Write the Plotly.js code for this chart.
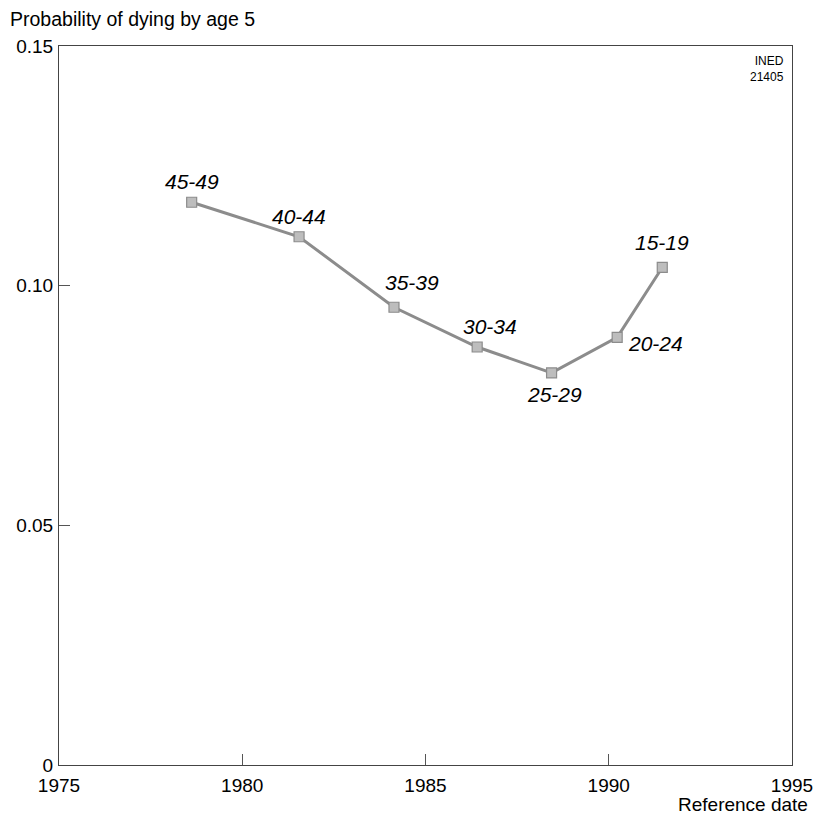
<!DOCTYPE html>
<html><head><meta charset="utf-8">
<script src="https://cdn.plot.ly/plotly-3.0.1.min.js"></script>
<style>body{margin:0;background:#fff}#c{width:813px;height:819px}</style>
</head><body><div id="c"></div>
<script>
const years = [1978.62, 1981.55, 1984.14, 1986.41, 1988.44, 1990.23, 1991.46];
const probs = [0.1174, 0.1102, 0.0955, 0.0872, 0.0818, 0.0892, 0.1038];
const ageGroups = ["45-49", "40-44", "35-39", "30-34", "25-29", "20-24", "15-19"];
const xTicks = [1975, 1980, 1985, 1990, 1995];
const yTicks = [0, 0.05, 0.10, 0.15];
const yTickText = ["0", "0.05", "0.10", "0.15"];

// label offsets (px) relative to each marker
const labelDx = [0, 0, 18, 13, 3, 9, 0];
const labelDy = [21, 20, 25, 21, -22, -6, 25];
const labelAnchor = ["center", "center", "center", "center", "center", "left", "center"];

const font = "Liberation Sans, Arial, Helvetica, sans-serif";
const ann = ageGroups.map((t, i) => ({
  x: years[i], y: probs[i], xref: "x", yref: "y", text: "<i>" + t + "</i>",
  showarrow: false, xanchor: labelAnchor[i], yanchor: "middle",
  xshift: labelDx[i], yshift: labelDy[i],
  font: {family: font, size: 21, color: "#000"}
}));
ann.push({xref: "paper", yref: "paper", x: 0, y: 1, xshift: -51, yshift: 27,
  xanchor: "left", yanchor: "middle", showarrow: false,
  text: "Probability of dying by age 5", font: {family: font, size: 19.5, color: "#000"}});
ann.push({xref: "paper", yref: "paper", x: 1, y: 0, xshift: 18, yshift: -39,
  xanchor: "right", yanchor: "middle", showarrow: false,
  text: "Reference date", font: {family: font, size: 19, color: "#000"}});
ann.push({xref: "paper", yref: "paper", x: 1, y: 1, xshift: -6, yshift: -6,
  xanchor: "right", yanchor: "top", showarrow: false, align: "right",
  text: "INED<br>21405", font: {family: font, size: 12, color: "#000"}});

const data = [{
  x: years, y: probs, type: "scatter", mode: "lines+markers",
  line: {color: "#8c8c8c", width: 3},
  marker: {symbol: "square", size: 10, color: "#bdbdbd", line: {color: "#8c8c8c", width: 1.2}},
  hoverinfo: "skip", cliponaxis: false
}];

const layout = {
  width: 813, height: 819,
  margin: {l: 59, r: 21, t: 46, b: 54},
  paper_bgcolor: "#fff", plot_bgcolor: "#fff",
  showlegend: false,
  font: {family: font, size: 19, color: "#000"},
  xaxis: {range: [1975, 1995], tickvals: xTicks, ticktext: xTicks.map(String),
    ticks: "inside", ticklen: 11, tickcolor: "#555", tickwidth: 1,
    showline: true, linecolor: "#444", linewidth: 1, mirror: true,
    showgrid: false, zeroline: false, fixedrange: true,
    ticklabeloverflow: "allow", ticklabelstandoff: 3,
    tickfont: {family: font, size: 19, color: "#000"}},
  yaxis: {range: [0, 0.15], tickvals: yTicks, ticktext: yTickText,
    ticks: "inside", ticklen: 11, tickcolor: "#555", tickwidth: 1,
    showline: true, linecolor: "#444", linewidth: 1, mirror: true,
    showgrid: false, zeroline: false, fixedrange: true,
    ticklabeloverflow: "allow", ticklabelstandoff: 1,
    tickfont: {family: font, size: 19, color: "#000"}},
  annotations: ann
};
Plotly.newPlot("c", data, layout, {displayModeBar: false, staticPlot: true});
</script></body></html>
